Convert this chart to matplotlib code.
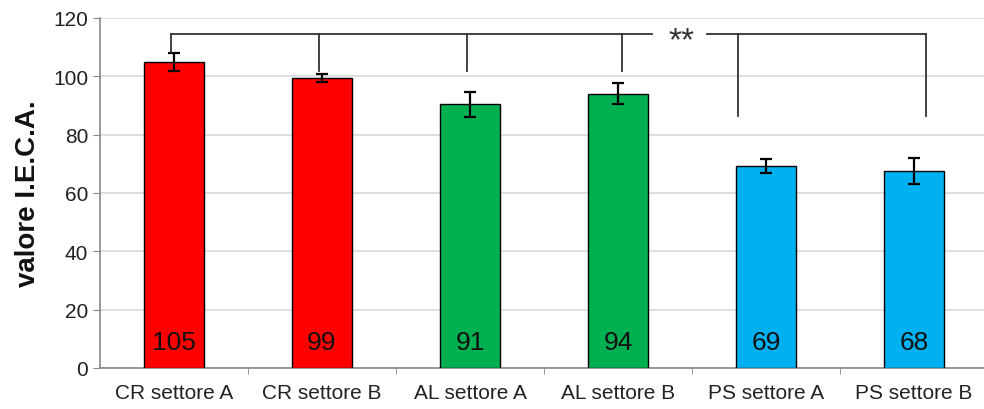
import matplotlib.pyplot as plt
import numpy as np

plt.rcParams['font.family'] = ['Liberation Sans', 'DejaVu Sans']

categories = ['CR settore A', 'CR settore B', 'AL settore A', 'AL settore B',
              'PS settore A', 'PS settore B']
values = [105.0, 99.4, 90.5, 94.0, 69.2, 67.6]
errors = [3.0, 1.5, 4.3, 3.6, 2.4, 4.5]
value_labels = ['105', '99', '91', '94', '69', '68']
colors = ['#ff0000', '#ff0000', '#00b050', '#00b050', '#00b0f0', '#00b0f0']

# significance bracket: drop positions (category index + offset) and lower ends
bracket_x = [-0.02, 0.98, 1.98, 3.03, 3.81, 5.08]
bracket_low = [108.2, 102.0, 102.0, 102.0, 86.5, 86.5]
bracket_y = 114.5

fig = plt.figure(figsize=(9.84, 4.10), dpi=100)
ax = fig.add_axes([100 / 984, 41 / 410, 888 / 984, 350 / 410])

x = np.arange(len(categories))
ax.bar(x, values, width=0.40, color=colors, edgecolor='black', linewidth=1.0, zorder=3)
ax.errorbar(x, values, yerr=errors, fmt='none', ecolor='black', elinewidth=1.6,
            capsize=4, capthick=1.6, zorder=4)

for xi, lab in zip(x, value_labels):
    ax.text(xi, 9.0, lab, ha='center', va='center', fontsize=19, color='#111', zorder=5)

# bracket
lc = '#333333'
ax.plot([bracket_x[0], 3.23], [bracket_y, bracket_y], color=lc, lw=1.3, zorder=5)
ax.plot([3.60, bracket_x[-1]], [bracket_y, bracket_y], color=lc, lw=1.3, zorder=5)
for bx, bl in zip(bracket_x, bracket_low):
    ax.plot([bx, bx], [bl, bracket_y], color=lc, lw=1.3, zorder=5)
ax.text(3.43, bracket_y - 2.2, '**', ha='center', va='center', fontsize=24,
        color='#333', zorder=5)

ax.set_xlim(-0.5, len(categories) - 0.5)
ax.set_ylim(0, 120)
ax.set_yticks(np.arange(0, 121, 20))
ax.yaxis.grid(True, color='#d9d9d9', lw=1.2, zorder=0)
ax.set_axisbelow(True)

ax.set_xticks(x)
ax.set_xticklabels(categories, fontsize=15, color='#222')
ax.tick_params(axis='x', length=0, pad=11)
ax.set_xticks(np.arange(0.5, len(categories) - 0.5, 1), minor=True)
ax.tick_params(axis='x', which='minor', length=4, color='#888', direction='out')
ax.tick_params(axis='y', labelsize=15, labelcolor='#222', length=5, color='#888')

for s in ['top', 'right']:
    ax.spines[s].set_visible(False)
for s in ['left', 'bottom']:
    ax.spines[s].set_color('#888')
    ax.spines[s].set_linewidth(1.2)

ax.set_ylabel('valore I.E.C.A.', fontsize=20, fontweight='bold', color='#111', labelpad=9)

fig.savefig('out.png', dpi=100)
